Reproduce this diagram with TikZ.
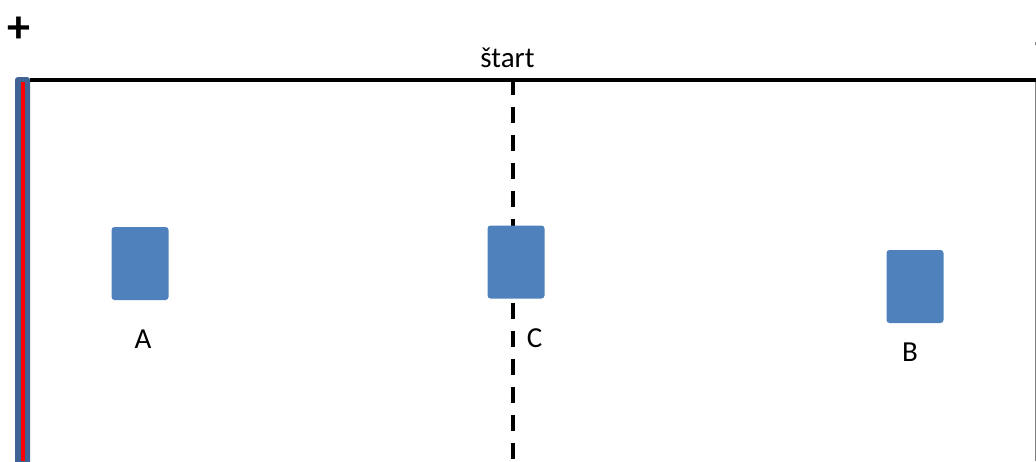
\documentclass[tikz,border=0pt]{standalone}
\usepackage{fontspec}
\setmainfont{Carlito}
\definecolor{boxblue}{RGB}{79,129,189}
\definecolor{barblue}{RGB}{64,99,150}
\definecolor{edgegray}{RGB}{128,128,128}
\tikzset{
  block/.style={fill=boxblue, rounded corners=3pt, inner sep=0pt,
                minimum width=57pt, minimum height=73pt},
  lbl/.style={inner sep=0pt, anchor=base, font=\fontsize{29}{34}\selectfont},
  track/.style={line width=4pt, dash pattern=on 16pt off 12pt},
}
\begin{document}
\begin{tikzpicture}[x=1pt,y=-1pt]
  \useasboundingbox (0,0) rectangle (1036,461);

  % plus sign in the corner
  \node[inner sep=0pt, font=\fontsize{46}{50}\selectfont\bfseries] (plus) at (18.5,29.5) {+};

  % left wall: blue band with red core
  \fill[barblue, rounded corners=3pt] (15,77) rectangle (30,470);
  \draw[red, line width=4pt] (23,82) -- (23,461);

  % right border and mark
  \draw[edgegray, line width=1pt] (1035.5,82) -- (1035.5,461);
  \draw[edgegray, line width=1.2pt] (1035.5,42) -- (1035.5,45);

  % start line
  \coordinate (sl) at (30,80);
  \coordinate (sr) at (1036,80);
  \draw[line width=4.8pt] (sl) -- (sr);
  \node[lbl] (start) at (507.5,67) {štart};

  % centre dashed track
  \coordinate (ct) at (512.7,79);
  \coordinate (cb) at (512.7,461);
  \draw[track] (ct) -- (cb);

  % blocks
  \node[block] (A) at (140,263.5) {};
  \node[block] (C) at (516,262) {};
  \node[block] (B) at (915,286.5) {};

  \node[lbl] (la) at (143,348.5) {A};
  \node[lbl] (lc) at (534.5,347.5) {C};
  \node[lbl] (lb) at (910,361.5) {B};
\end{tikzpicture}
\end{document}
